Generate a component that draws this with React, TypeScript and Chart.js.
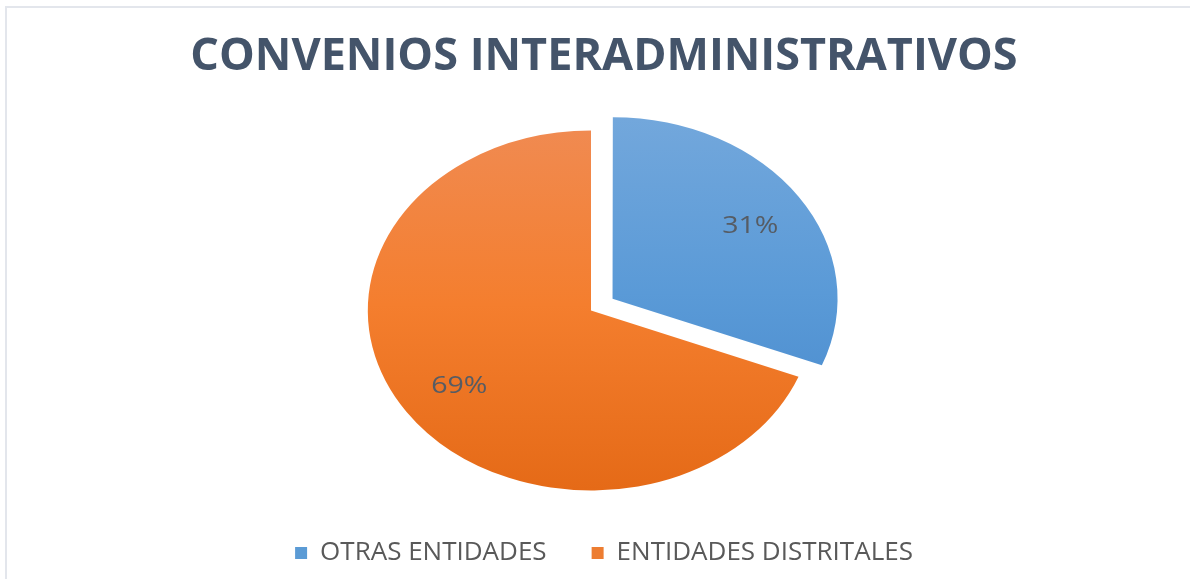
import { useEffect, useRef } from 'react';
import { Chart, registerables } from 'chart.js';

Chart.register(...registerables);

const categories = ['OTRAS ENTIDADES', 'ENTIDADES DISTRITALES'];
const shares = [31, 69];
const pctLabels = ['31%', '69%'];
const explodePx = [21, 0];
const legendColors = ['#5B9BD5', '#ED7D31'];
const gradientStops = [
  ['#74A8DC', '#5A9AD7', '#4587CB'],
  ['#F08B53', '#F47E2E', '#E56A17'],
];

export default function App() {
  const ref = useRef<HTMLCanvasElement>(null);

  useEffect(() => {
    document.body.style.margin = '0';
    const canvas = ref.current;
    if (!canvas) return;
    const SX = 1.24;
    const SHIFT = -13;
    const R = 180;

    const frame = {
      id: 'frame',
      beforeDraw(chart: any) {
        const ctx = chart.ctx;
        ctx.save();
        ctx.fillStyle = '#FFFFFF';
        ctx.fillRect(0, 0, chart.width, chart.height);
        ctx.strokeStyle = '#E3E6EC';
        ctx.lineWidth = 2;
        ctx.beginPath();
        ctx.moveTo(6, chart.height);
        ctx.lineTo(6, 7);
        ctx.lineTo(chart.width, 7);
        ctx.stroke();
        ctx.restore();
      },
    };

    const stretch = {
      id: 'stretch',
      beforeDatasetsDraw(chart: any) {
        const a = chart.chartArea;
        const cx = (a.left + a.right) / 2;
        const ctx = chart.ctx;
        ctx.save();
        ctx.translate(cx + SHIFT, 0);
        ctx.scale(SX, 1);
        ctx.translate(-cx, 0);
      },
      afterDatasetsDraw(chart: any) {
        const ctx = chart.ctx;
        ctx.restore();
        const a = chart.chartArea;
        const cx = (a.left + a.right) / 2;
        const meta = chart.getDatasetMeta(0);
        meta.data.forEach((arc: any, i: number) => {
          const p = arc.getProps(['x', 'y', 'startAngle', 'endAngle', 'outerRadius'], true);
          const mid = (p.startAngle + p.endAngle) / 2;
          const d = explodePx[i] + p.outerRadius * 0.73;
          const ux = p.x + Math.cos(mid) * d;
          const uy = p.y + Math.sin(mid) * d;
          const x = cx + SHIFT + (ux - cx) * SX;
          ctx.save();
          ctx.translate(x + 3, uy + 2);
          ctx.scale(SX, 1);
          ctx.fillStyle = '#565C64';
          ctx.font = '23px "Open Sans"';
          ctx.textAlign = 'center';
          ctx.textBaseline = 'middle';
          ctx.fillText(pctLabels[i], 0, 0);
          ctx.restore();
        });
      },
    };

    const bg = (c: any) => {
      const i = c.dataIndex ?? 0;
      const chart = c.chart;
      const area = chart.chartArea;
      if (!area) return legendColors[i];
      const cy = (area.top + area.bottom) / 2;
      const g = chart.ctx.createLinearGradient(0, cy - R - 12, 0, cy + R);
      g.addColorStop(0, gradientStops[i][0]);
      g.addColorStop(0.5, gradientStops[i][1]);
      g.addColorStop(1, gradientStops[i][2]);
      return g;
    };

    const chart = new Chart(canvas, {
      type: 'pie',
      data: {
        labels: categories,
        datasets: [
          {
            data: shares,
            backgroundColor: bg,
            borderWidth: 0,
            offset: explodePx.map((v) => v * 4),
          } as any,
        ],
      },
      options: {
        responsive: false,
        animation: false,
        devicePixelRatio: 1,
        radius: R,
        layout: { padding: { left: 18, right: 0, top: 0, bottom: 3 } },
        plugins: {
          title: {
            display: true,
            text: 'CONVENIOS INTERADMINISTRATIVOS',
            color: '#44546A',
            font: { family: '"Open Sans"', size: 45, weight: 'bold' },
            padding: { top: 30, bottom: 42 },
          },
          legend: {
            position: 'bottom',
            labels: {
              boxWidth: 12,
              boxHeight: 12,
              padding: 45,
              color: '#595959',
              font: { family: '"Open Sans"', size: 26 },
              generateLabels: () =>
                categories.map((t, i) => ({
                  text: t,
                  fillStyle: legendColors[i],
                  strokeStyle: legendColors[i],
                  lineWidth: 0,
                  hidden: false,
                  index: i,
                  fontColor: '#595959',
                })),
            },
          },
          tooltip: { enabled: false },
        },
      } as any,
      plugins: [frame, stretch],
    });

    return () => chart.destroy();
  }, []);

  return (
    <div style={{ width: 1190, height: 579 }}>
      <canvas ref={ref} width={1190} height={579} style={{ display: 'block' }} />
    </div>
  );
}
